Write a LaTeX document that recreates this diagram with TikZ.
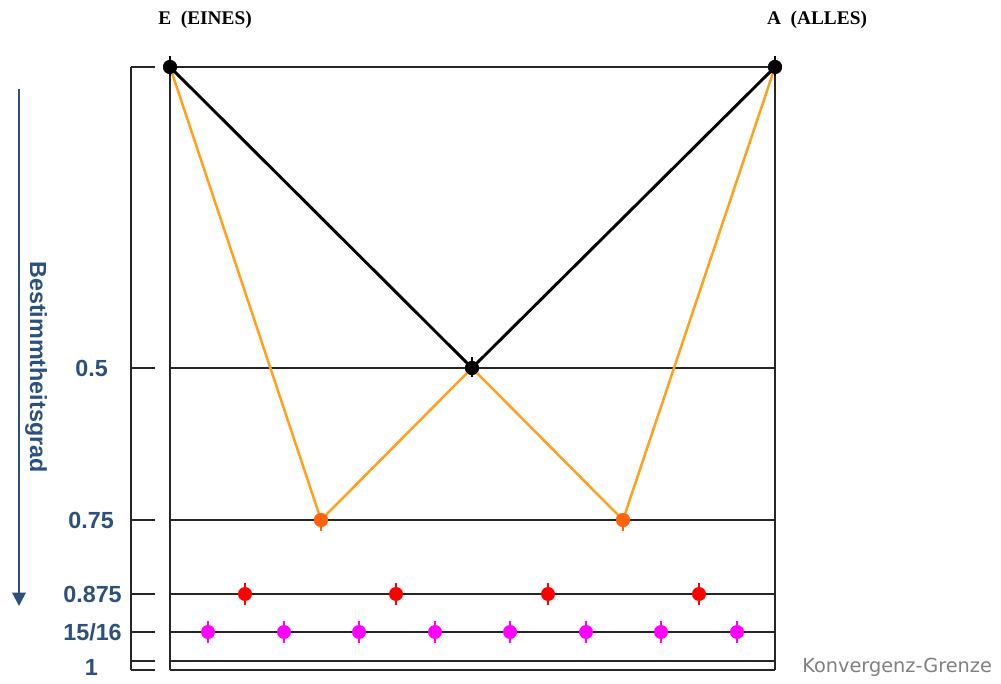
\documentclass[tikz,border=0pt]{standalone}
\usepackage{fontspec}
\setmainfont{Liberation Serif}
\newfontfamily\labfont{Liberation Sans}
\newfontfamily\grfont{DejaVu Sans}
\usetikzlibrary{arrows.meta}
\definecolor{axisblue}{RGB}{45,80,125}
\definecolor{lineorange}{RGB}{255,160,30}
\definecolor{ptorange}{RGB}{255,100,10}
\definecolor{ptred}{RGB}{255,0,0}
\definecolor{ptmagenta}{RGB}{255,0,255}
\begin{document}
\begin{tikzpicture}[
  x=0.75pt, y=-0.75pt,
  grid/.style={line width=1.4pt, black!85},
  dot/.style={circle, fill=#1, inner sep=0pt, minimum size=10.5pt},
  spike/.style={line width=2pt, draw=#1},
  lvl/.style={font=\labfont\bfseries\fontsize{17.5}{19}\selectfont, text=axisblue, anchor=east, inner sep=0pt},
  top/.style={font=\bfseries\fontsize{14.5}{16}\selectfont, inner sep=0pt}
]
  \useasboundingbox (0,0) rectangle (1001,684);

  % scale on the left
  \draw[grid] (131,67) -- (131,670);
  \foreach \y in {67,368,520,594,632,661,670}
    \draw[grid] (131,\y) -- (155,\y);

  % box and levels
  \draw[grid] (170,67) -- (170,670);
  \draw[grid] (775,67) -- (775,670);
  \foreach \y in {67,368,520,594,632,661,670}
    \draw[grid] (170,\y) -- (775,\y);

  % level labels
  \node[lvl] (l1) at (108,368) {0.5};
  \node[lvl] (l2) at (114,520) {0.75};
  \node[lvl] (l3) at (122,594) {0.875};
  \node[lvl] (l4) at (122,632) {15/16};
  \node[lvl] (l5) at (98,667) {1};

  % axis arrow
  \coordinate (ta) at (19,89);
  \coordinate (tb) at (19,606);
  \draw[axisblue, line width=1.6pt, -{Triangle[width=10pt,length=10pt]}] (ta) -- (tb);
  \node[rotate=-90, font=\labfont\bfseries\fontsize{17.5}{19}\selectfont, text=axisblue, inner sep=0pt] (ax) at (36,367) {Bestimmtheitsgrad};

  % points
  \node[dot=black] (E) at (170,67) {};
  \node[dot=black] (A) at (775,67) {};
  \node[dot=black] (M) at (472,368) {};
  \node[dot=ptorange] (L) at (321,520) {};
  \node[dot=ptorange] (R) at (623,520) {};

  % connections
  \draw[lineorange, line width=1.9pt] (E.center) -- (L.center) -- (M.center) -- (R.center) -- (A.center);
  \draw[black, line width=2.2pt] (E.center) -- (M.center) -- (A.center);
  \node[dot=black] at (E) {};
  \node[dot=black] at (A) {};
  \node[dot=black] at (M) {};
  \node[dot=ptorange] at (L) {};
  \node[dot=ptorange] at (R) {};
  \foreach \n in {E,A,M}
    \draw[spike=black] ([yshift=2.5pt]\n.north) -- ([yshift=-1.5pt]\n.south);
  \foreach \n in {L,R}
    \draw[spike=ptorange] (\n.north) -- ([yshift=-2.5pt]\n.south);

  % red level
  \foreach \x [count=\i] in {245,396,548,699} {
    \node[dot=ptred] (r\i) at (\x,594) {};
    \draw[spike=ptred] ([yshift=2.5pt]r\i.north) -- ([yshift=-2.5pt]r\i.south);
  }

  % magenta level
  \foreach \x [count=\i] in {208,284,359,435,510,586,661,737} {
    \node[dot=ptmagenta] (m\i) at (\x,632) {};
    \draw[spike=ptmagenta] ([yshift=2.5pt]m\i.north) -- ([yshift=-2.5pt]m\i.south);
  }

  % top labels
  \node[top] (te) at (205,20) {E\ \ (EINES)};
  \node[top] (ta2) at (817,20) {A\ \ (ALLES)};

  \node[anchor=west, font=\grfont\fontsize{14.5}{16}\selectfont, text=black!50, inner sep=0pt] (kg) at (802,667) {Konvergenz-Grenze};
\end{tikzpicture}
\end{document}
